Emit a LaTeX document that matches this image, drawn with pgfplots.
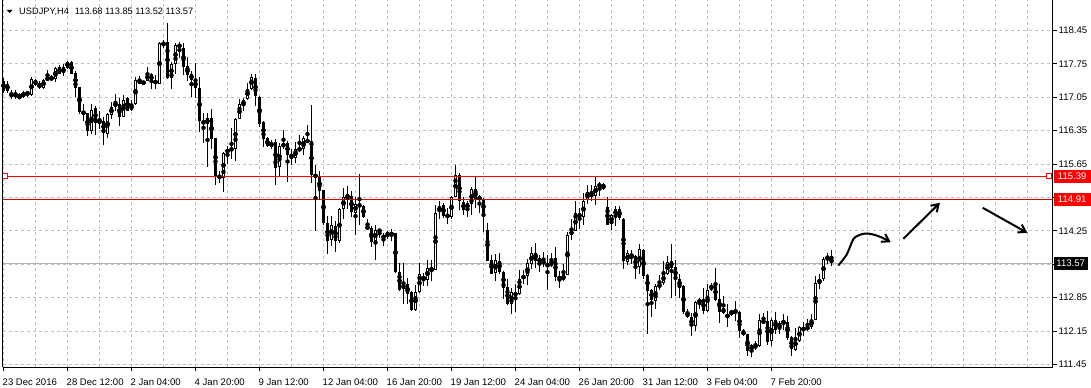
\documentclass[border=0pt]{standalone}
\usepackage{pgfplots}
\pgfplotsset{compat=1.18}
\usepackage{pgfplotstable}
\usepackage{fontspec}
\setmainfont{Liberation Sans}
\usetikzlibrary{arrows.meta}
\definecolor{gridc}{RGB}{192,192,192}
\definecolor{mtred}{RGB}{255,0,0}
\definecolor{mtdred}{RGB}{215,0,0}
\definecolor{bidc}{RGB}{176,176,176}

\pgfplotstableread{
i o h l c
0 117.40 117.46 117.14 117.18
1 117.18 117.39 117.14 117.34
2 117.06 117.21 117.02 117.14
3 117.13 117.21 117.02 117.05
4 117.07 117.14 117.02 117.04
5 117.07 117.19 117.04 117.14
6 117.16 117.19 117.06 117.11
7 117.10 117.47 117.07 117.44
8 117.42 117.44 117.28 117.30
9 117.32 117.39 117.23 117.26
10 117.25 117.44 117.23 117.42
11 117.41 117.63 117.39 117.47
12 117.47 117.51 117.40 117.42
13 117.44 117.68 117.37 117.67
14 117.68 117.72 117.53 117.54
15 117.56 117.74 117.49 117.68
16 117.67 117.82 117.65 117.80
17 117.80 117.81 117.53 117.54
18 117.57 117.60 117.05 117.25
19 117.26 117.26 116.70 116.75
20 116.75 116.91 116.55 116.70
21 116.73 116.73 116.24 116.34
22 116.34 116.91 116.29 116.79
23 116.82 116.87 116.27 116.52
24 116.52 116.76 116.38 116.56
25 116.56 116.63 116.06 116.31
26 116.29 116.72 116.20 116.70
27 116.68 116.96 116.59 116.85
28 116.86 117.11 116.76 116.93
29 116.92 117.04 116.45 116.64
30 116.64 117.10 116.64 117.00
31 117.04 117.05 116.76 116.77
32 116.79 117.00 116.76 116.90
33 116.90 117.47 116.89 117.42
34 117.44 117.49 117.32 117.33
35 117.37 117.40 117.32 117.34
36 117.40 117.68 117.39 117.54
37 117.54 117.55 117.23 117.39
38 117.40 117.51 117.23 117.34
39 117.33 118.21 117.32 118.18
40 118.14 118.26 118.09 118.19
41 118.21 118.61 117.44 117.46
42 117.46 117.79 117.23 117.75
43 117.75 118.19 117.53 118.14
44 118.17 118.20 117.88 118.09
45 118.09 118.18 117.51 117.68
46 117.70 117.89 117.40 117.51
47 117.54 117.60 117.05 117.42
48 117.40 117.77 117.04 117.25
49 117.25 117.47 116.33 116.55
50 116.56 116.72 116.10 116.49
51 116.49 116.72 115.59 116.62
52 116.62 116.81 115.96 116.18
53 116.19 116.19 115.22 115.40
54 115.41 115.50 115.26 115.36
55 115.36 115.91 115.06 115.89
56 115.91 116.03 115.66 115.94
57 115.98 116.40 115.75 115.94
58 115.96 116.62 115.71 116.59
59 116.60 117.02 116.59 116.90
60 116.87 117.04 116.77 117.00
61 117.02 117.35 117.00 117.23
62 117.23 117.54 117.21 117.48
63 117.46 117.53 116.87 117.07
64 117.06 117.07 116.43 116.50
65 116.54 116.55 116.00 116.18
66 116.19 116.21 116.00 116.03
67 116.01 116.15 115.96 116.12
68 116.12 116.17 115.21 115.57
69 115.59 116.10 115.40 116.03
70 116.00 116.36 115.96 116.10
71 116.10 116.13 115.28 115.84
72 115.87 115.96 115.64 115.78
73 115.77 116.12 115.68 115.97
74 115.98 116.25 115.94 115.94
75 115.97 116.25 115.85 116.19
76 116.15 116.46 116.10 116.12
77 116.13 116.88 115.26 115.42
78 115.38 115.64 114.24 115.43
79 115.40 115.50 114.89 115.08
80 115.10 115.10 114.38 114.41
81 114.42 114.56 113.76 114.03
82 114.06 114.56 113.93 114.38
83 114.36 114.45 113.80 114.03
84 114.03 114.73 114.00 114.72
85 114.72 115.14 114.51 114.96
86 114.99 115.19 114.70 114.96
87 114.99 115.08 114.54 114.64
88 114.63 114.96 114.16 114.82
89 114.80 115.45 114.38 114.77
90 114.78 114.80 114.52 114.54
91 114.34 114.49 114.28 114.30
92 114.32 114.35 113.91 114.02
93 114.03 114.38 113.63 114.28
94 114.23 114.30 114.10 114.28
95 114.15 114.21 113.93 114.10
96 114.12 114.24 114.09 114.22
97 114.21 114.30 114.03 114.17
98 114.21 114.21 113.37 113.39
99 113.39 113.58 112.99 113.02
100 113.04 113.58 112.72 113.13
101 113.13 113.27 112.72 112.93
102 112.97 112.99 112.58 112.60
103 112.60 113.11 112.57 112.97
104 112.97 113.58 112.95 113.35
105 113.31 113.37 113.10 113.22
106 113.22 113.65 113.09 113.48
107 113.48 113.65 113.20 113.42
108 113.43 114.80 113.42 114.63
109 114.65 114.87 114.50 114.78
110 114.80 114.84 114.52 114.56
111 114.59 114.73 114.40 114.54
112 114.54 114.98 114.49 114.96
113 114.96 115.64 114.96 115.42
114 115.42 115.47 114.68 114.87
115 114.86 114.96 114.58 114.68
116 114.71 114.87 114.54 114.84
117 114.82 115.17 114.58 115.12
118 115.12 115.40 114.73 114.91
119 114.96 115.01 114.63 114.91
120 114.89 114.94 114.23 114.63
121 114.28 114.42 113.62 113.63
122 113.65 113.75 113.34 113.35
123 113.37 113.77 113.20 113.64
124 113.63 113.79 113.34 113.39
125 113.39 113.40 112.83 113.06
126 113.08 113.25 112.69 112.71
127 112.72 113.06 112.51 112.97
128 112.97 113.13 112.55 112.88
129 112.92 113.44 112.91 113.24
130 113.24 113.44 113.13 113.32
131 113.30 113.67 113.11 113.57
132 113.56 113.91 113.46 113.78
133 113.79 114.00 113.48 113.62
134 113.65 113.74 113.39 113.62
135 113.62 113.81 113.49 113.56
136 113.56 113.75 113.02 113.50
137 113.51 113.79 113.49 113.66
138 113.69 113.91 113.21 113.28
139 113.29 113.40 113.06 113.24
140 113.22 113.56 113.21 113.34
141 113.32 114.23 113.32 114.17
142 114.16 114.49 114.07 114.26
143 114.24 114.87 114.24 114.63
144 114.61 114.73 114.28 114.54
145 114.54 115.05 114.38 114.87
146 114.89 115.21 114.82 115.07
147 115.05 115.22 114.87 114.96
148 114.98 115.40 114.79 115.20
149 115.22 115.28 114.99 115.19
150 115.24 115.26 115.10 115.12
151 114.75 114.96 114.37 114.38
152 114.40 114.61 114.26 114.59
153 114.57 114.77 114.36 114.70
154 114.70 114.78 114.47 114.52
155 114.51 114.52 113.45 113.62
156 113.60 113.84 113.53 113.79
157 113.77 113.84 113.56 113.70
158 113.72 113.74 113.25 113.48
159 113.50 113.97 113.34 113.86
160 113.86 113.87 113.25 113.30
161 113.32 113.34 112.09 112.99
162 113.02 113.04 112.44 112.80
163 112.78 113.14 112.62 113.09
164 113.07 113.32 113.02 113.14
165 113.16 113.62 113.11 113.35
166 113.35 113.72 113.32 113.60
167 113.63 113.97 112.85 113.48
168 113.49 113.65 112.88 113.25
169 113.25 113.35 112.85 113.06
170 113.09 113.11 112.50 112.55
171 112.55 112.62 112.43 112.44
172 112.45 112.53 112.04 112.25
173 112.25 112.79 112.16 112.76
174 112.74 112.85 112.62 112.81
175 112.81 113.06 112.51 112.57
176 112.57 113.14 112.55 113.02
177 113.02 113.16 113.00 113.11
178 113.14 113.48 112.79 112.80
179 112.83 113.13 112.32 112.55
180 112.52 112.88 112.50 112.64
181 112.48 112.71 112.23 112.45
182 112.50 112.60 112.46 112.58
183 112.58 112.78 112.36 112.53
184 112.55 112.57 112.01 112.16
185 112.17 112.19 112.04 112.06
186 112.08 112.09 111.62 111.73
187 111.73 111.88 111.60 111.86
188 111.85 111.95 111.76 111.81
189 111.83 112.51 111.81 112.39
190 112.31 112.53 112.29 112.39
191 112.37 112.57 111.86 111.92
192 111.94 112.43 111.83 112.39
193 112.38 112.55 112.09 112.18
194 112.20 112.36 112.08 112.32
195 112.34 112.51 112.18 112.31
196 112.34 112.46 111.97 112.01
197 112.02 112.04 111.62 111.78
198 111.75 112.22 111.74 112.02
199 111.94 112.25 111.92 112.24
200 112.22 112.34 112.04 112.17
201 112.19 112.41 112.15 112.24
202 112.24 112.51 112.20 112.39
203 112.39 113.30 112.38 113.16
204 113.14 113.34 113.04 113.25
205 113.25 113.70 113.21 113.67
206 113.67 113.79 113.55 113.71
207 113.68 113.85 113.52 113.57
}\candles

\begin{document}
\begin{tikzpicture}
\useasboundingbox (0,0) rectangle (1091bp,388bp);
\begin{axis}[
  at={(2.5bp,20.5bp)}, anchor=south west,
  scale only axis, width=1050bp, height=367bp,
  xmin=-0.25, xmax=262.25, ymin=111.3868, ymax=119.0788,
  axis x line*=bottom, axis y line*=right,
  axis line style={black, line width=1bp},
  tick align=outside, major tick length=4bp, minor tick length=0pt,
  tick style={black, line width=1bp},
  xtick={0,16,32,48,64,80,96,112,128,144,160,176,192},
  xticklabels={23 Dec 2016,28 Dec 12:00,2 Jan 04:00,4 Jan 20:00,9 Jan 12:00,12 Jan 04:00,16 Jan 20:00,19 Jan 12:00,24 Jan 04:00,26 Jan 20:00,31 Jan 12:00,3 Feb 04:00,7 Feb 20:00},
  minor xtick={8,24,40,56,72,88,104,120,136,152,168,184,200,208,216,224,232,240,248,256},
  ytick={111.45,112.15,112.85,113.55,114.25,114.95,115.65,116.35,117.05,117.75,118.45},
  yticklabels={111.45,112.15,112.85,{},114.25,{},115.65,116.35,117.05,117.75,118.45},
  xmajorgrids, xminorgrids, ymajorgrids,
  major grid style={gridc, line width=1bp, dash pattern=on 3bp off 3bp},
  minor grid style={gridc, line width=1bp, dash pattern=on 3bp off 3bp},
  tick label style={font=\fontsize{9.6}{11}\selectfont, text=black},
  xticklabel style={anchor=base west, inner sep=0pt, xshift=-1bp, yshift=-14.2bp},
  yticklabel style={anchor=west, inner sep=0pt, xshift=2bp},
]
% bid line
\addplot[color=bidc, line width=1bp] coordinates {(-0.25,113.57) (262.25,113.57)};
% wicks
\addplot[only marks, mark=none, error bars/.cd, y dir=both, y explicit, error mark=none,
  error bar style={black, line width=1bp}]
  table[x=i, y expr={(\thisrow{h}+\thisrow{l})/2}, y error expr={(\thisrow{h}-\thisrow{l})/2}] {\candles};
% bodies
\addplot[only marks, mark=none, error bars/.cd, y dir=both, y explicit, error mark=none,
  error bar style={black, line width=3bp}]
  table[x=i, y expr={(\thisrow{o}+\thisrow{c})/2}, y error expr={max(abs(\thisrow{o}-\thisrow{c})/2,0.0105)}] {\candles};
% white interiors of bullish candles
\addplot[only marks, mark=none, error bars/.cd, y dir=both, y explicit, error mark=none,
  error bar style={white, line width=1bp}]
  table[x=i, y expr={(\thisrow{o}+\thisrow{c})/2}, y error expr={(\thisrow{c}>\thisrow{o}) ? max((\thisrow{c}-\thisrow{o})/2-0.021,0) : 0}] {\candles};
% level lines
\addplot[draw=mtdred, color=mtdred, line width=1bp, mark=none] coordinates {(-0.25,114.91) (262.25,114.91)};
\addplot[draw=mtred, color=mtred, line width=1bp, mark=none] coordinates {(-0.25,115.39) (262.25,115.39)};
\addplot[only marks, mark=square*, mark size=2.5bp, mark options={fill=white, draw=mtred, line width=1bp}] coordinates {(0.45,115.39) (261.3,115.39)};
% hand-drawn arrows
\addplot[color=black, line width=2bp, smooth, -{Straight Barb[length=7bp,width=9bp]}] coordinates {(208.7,113.525) (210.8,113.755) (212.4,114.07) (213.6,114.15) (215.4,114.195) (217.4,114.175) (219.6,114.11) (221.8,114.013)};
\addplot[color=black, line width=2bp, -{Straight Barb[length=7bp,width=9bp]}] coordinates {(224.95,114.084) (234.1,114.839)};
\addplot[color=black, line width=2bp, -{Straight Barb[length=7bp,width=9bp]}] coordinates {(244.8,114.734) (255.95,114.21)};
\coordinate (r1) at (axis cs:262.25,115.39);
\coordinate (r2) at (axis cs:262.25,114.91);
\coordinate (r3) at (axis cs:262.25,113.57);
\end{axis}
\draw[black, line width=1bp] (2.5bp,20.5bp) -- (2.5bp,388bp);
\node[fill=mtred, text=white, font=\fontsize{9.6}{11}\selectfont, inner sep=0pt, minimum width=37bp, minimum height=13bp, anchor=west] at ([xshift=1bp]r1) {115.39};
\node[fill=mtred, text=white, font=\fontsize{9.6}{11}\selectfont, inner sep=0pt, minimum width=37bp, minimum height=13bp, anchor=west] at ([xshift=1bp]r2) {114.91};
\node[fill=black, text=white, font=\fontsize{9.6}{11}\selectfont, inner sep=0pt, minimum width=34bp, minimum height=13bp, anchor=west] at ([xshift=1bp]r3) {113.57};
\fill[black] (6.7bp,378bp) -- (12.5bp,378bp) -- (9.6bp,375bp) -- cycle;
\node[anchor=base west, inner sep=0pt, font=\fontsize{9.3}{11}\selectfont] at (19bp,373.5bp) {USDJPY,H4\hspace{6bp}113.68 113.85 113.52 113.57};
\end{tikzpicture}
\end{document}
